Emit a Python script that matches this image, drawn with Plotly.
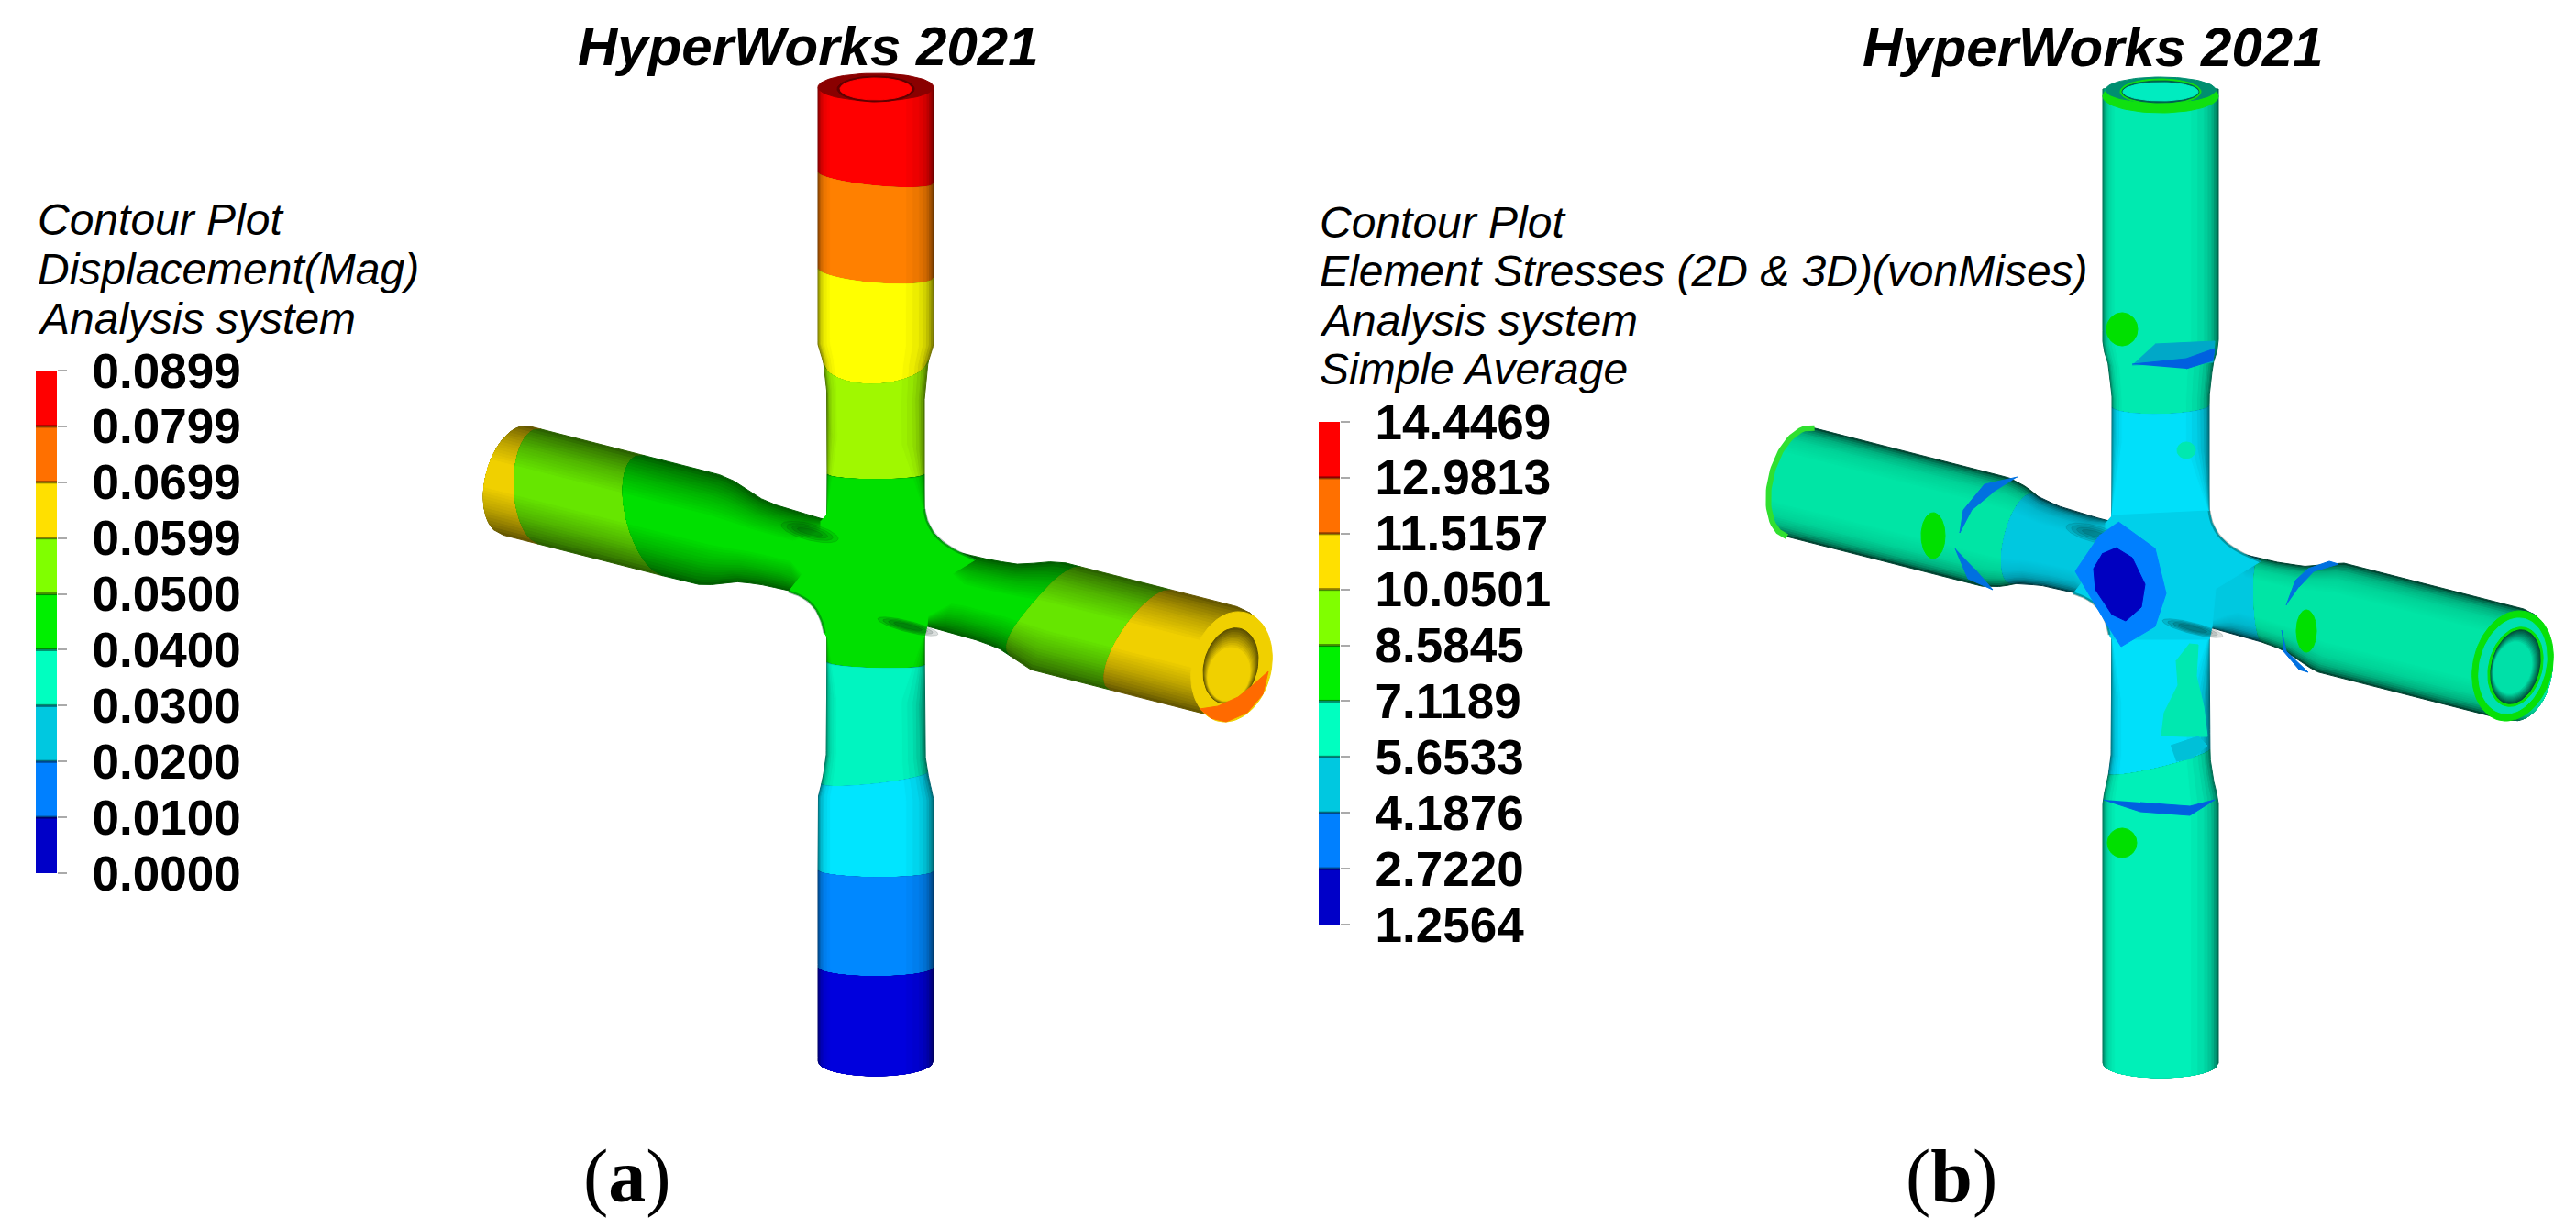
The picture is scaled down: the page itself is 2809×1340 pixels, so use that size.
#!/usr/bin/env python3
"""Contour plots of a cross joint: displacement (a) and von Mises stress (b)"""

import numpy as np
import plotly.graph_objects as go

W, H = 2809, 1340

# Legend scales
disp_labels = ['0.0000', '0.0100', '0.0200', '0.0300', '0.0400', '0.0500', '0.0599', '0.0699', '0.0799', '0.0899']
stress_labels = ['1.2564', '2.7220', '4.1876', '5.6533', '7.1189', '8.5845', '10.0501', '11.5157', '12.9813', '14.4469']
scale_colors = ['#0000c8', '#0080ff', '#00c8e0', '#00ffc0', '#00f000', '#80ff00', '#ffe000', '#ff7000', '#ff0000']

disp_text = ['Contour Plot', 'Displacement(Mag)', 'Analysis system']
stress_text = ['Contour Plot', 'Element Stresses (2D & 3D)(vonMises)', 'Analysis system', 'Simple Average']

# Pipe outline: half width along each axis
arm_s = [-450, -186, -165, -148, -122, -70, 0, 70, 120, 150, 170, 190, 450]
arm_h = [61, 61, 56, 48, 44, 42, 42, 43, 44, 47, 54, 61, 61]
pipe_y = [70, 376, 395, 430, 540, 700, 825, 850, 870, 1180]
pipe_h = [63, 63, 57, 53, 53, 53, 54, 58, 63, 63]

# Colour band edges, (edge, middle, other edge)
arm_cuts_a = [(-405, -438, -405), (-392, -407, -364), (-276, -283, -224), (215, 170, 165), (318, 275, 280), (393, 440, 406)]
arm_colors_a = ['#f0d000', '#66e600', '#00e000', '#66e600', '#f0d000']
up_cuts_a = [(95, 95, 95), (188, 203, 200), (293, 309, 303), (397, 419, 393), (517, 523, 517), (566, 566, 566)]
up_colors_a = ['#ff0000', '#ff8000', '#ffff00', '#a0f800', '#00e000']
low_cuts_a = [(690, 690, 690), (722, 729, 725), (855, 855, 842), (949, 957, 950), (1055, 1065, 1055), (1157, 1173, 1157)]
low_colors_a = ['#00e000', '#00f5c0', '#00e5ff', '#0088ff', '#0000dd']

arm_cuts_b = [(-405, -438, -405), (-150, -175, -150), (100, 105, 125), (393, 440, 406)]
arm_colors_b = ['#00e5a5', '#00c8e0', '#00e5a5']
up_cuts_b = [(95, 95, 95), (442, 450, 440), (566, 566, 566)]
up_colors_b = ['#00eab0', '#00e0fa']
low_cuts_b = [(690, 690, 690), (842, 835, 815), (1157, 1173, 1157)]
low_colors_b = ['#00e0fa', '#00f0b8']

# Shading strips: lateral extent, brightness
shade_t_a = [1.0, 0.9, 0.75, 0.6, 0.42, 0.25]
shade_f_a = [0.42, 0.55, 0.68, 0.8, 0.9, 1.0]
shade_t_b = [1.0, 0.95, 0.85, 0.7, 0.45]
shade_f_b = [0.3, 0.55, 0.78, 0.92, 1.0]
pipe_shade = [(1.0, 0.45), (0.985, 0.55), (0.97, 0.65), (0.945, 0.74), (0.92, 0.82), (0.88, 0.88), (0.84, 0.93), (0.77, 0.97), (0.7, 1.0)]


def strips(ts, fs):
    t = np.linspace(ts[0], ts[-1], 16)
    return list(zip(t, np.interp(t, ts[::-1], fs[::-1])))


# Hub patch with the fillets, panel (a) pixels
hub_x = [902, 1008, 1011, 1018, 1028, 1040, 1052, 1064, 1015, 1011, 1008, 902, 899, 896, 890, 881, 871, 860, 895, 895]
hub_y = [560, 555, 568, 581, 591, 599, 605, 610, 640, 682, 695, 695, 690, 678, 665, 655, 649, 645, 600, 568]

# Stress detail shapes, panel (b) pixels
blue_outer_x = [2310, 2350, 2362, 2350, 2313, 2297, 2263, 2290]
blue_outer_y = [569, 598, 647, 683, 705, 680, 623, 583]
blue_inner_x = [2307, 2325, 2339, 2335, 2318, 2303, 2285, 2283, 2293]
blue_inner_y = [597, 608, 637, 662, 677, 670, 643, 620, 603]
mint_patch_x = [2387, 2397, 2395, 2403, 2407, 2383, 2357, 2360, 2375, 2373]
mint_patch_y = [702, 703, 737, 770, 803, 803, 802, 777, 747, 720]
teal_patch_x = [2367, 2397, 2407, 2390, 2373]
teal_patch_y = [813, 803, 813, 827, 830]
slivers = [
    ([2350, 2415, 2413, 2325], [375, 372, 395, 398], '#00a8c8'),
    ([2325, 2384, 2415, 2413, 2384], [397, 391, 380, 393, 402], '#0060e0'),
    ([2294, 2334, 2388, 2415, 2388, 2334], [872, 885, 889, 872, 879, 875], '#0060e0'),
    ([2493, 2503, 2517, 2540, 2550, 2523, 2507], [660, 633, 620, 612, 615, 623, 640], '#0070e0'),
    ([2488, 2493, 2517, 2507, 2490], [687, 710, 733, 730, 710], '#0070e0'),
    ([2200, 2164, 2141, 2137, 2150, 2173], [520, 528, 556, 581, 556, 537], '#0070e0'),
    ([2132, 2146, 2173, 2153], [598, 631, 643, 620], '#0070e0'),
]
green_spots_x = [2314, 2314, 2515, 2108]
green_spots_y = [359, 919, 688, 584]
green_spots_rx = [17, 16, 11, 13]
green_spots_ry = [18, 16, 23, 25]

crescent_x = [1308, 1328, 1350, 1365, 1383, 1377, 1360, 1337, 1320]
crescent_y = [773, 770, 760, 748, 732, 757, 777, 787, 783]

fig = go.Figure()


def fill(x, y, color, width=1):
    fig.add_trace(go.Scatter(x=list(x), y=list(y), mode='lines', fill='toself', fillcolor=color,
                             line=dict(color=color, width=width), hoverinfo='skip', showlegend=False))


def shade(color, f):
    c = color.lstrip('#')
    r, g, b = [int(c[i:i + 2], 16) * f for i in (0, 2, 4)]
    return f'rgb({r:.0f},{g:.0f},{b:.0f})'


def cut_at(cut, t):
    l, m, r = cut
    return l + (r - l) * (t + 1) / 2 + (m - (l + r) / 2) * np.sqrt(np.clip(1 - t * t, 0, 1))


def ribbon(cx, cy, u, n, prof_s, prof_h, cut0, cut1, color, levels, skew, hub, fade_rng):
    tau = np.linspace(-1, 1, 41)
    for a, f in levels:
        def side(t):
            return 1 - (1 - a) * (skew[0] if t < 0 else skew[1])

        def point(s, t):
            s = np.asarray(s, dtype=float)
            fd = np.clip((np.abs(s - hub) - fade_rng[0]) / (fade_rng[1] - fade_rng[0]), 0, 1)
            w = 1 - (1 - side(t)) * fd
            lat = t * w * np.interp(s, prof_s, prof_h)
            return cx + u[0] * s + n[0] * lat, cy + u[1] * s + n[1] * lat

        scale = np.where(tau < 0, side(-1), side(1))
        xs, ys = [], []
        for s, t in zip(cut_at(cut0, tau * scale), tau):
            x, y = point(s, t)
            xs.append(x); ys.append(y)
        for s in np.linspace(cut_at(cut0, side(1)), cut_at(cut1, side(1)), 30):
            x, y = point(s, 1)
            xs.append(x); ys.append(y)
        for s, t in zip(cut_at(cut1, (tau * scale)[::-1]), tau[::-1]):
            x, y = point(s, t)
            xs.append(x); ys.append(y)
        for s in np.linspace(cut_at(cut1, -side(-1)), cut_at(cut0, -side(-1)), 30):
            x, y = point(s, -1)
            xs.append(x); ys.append(y)
        fill(xs, ys, shade(color, f))


def ellipse(cx, cy, ax, ay, color, u=(1, 0), n=(0, 1)):
    th = np.linspace(0, 2 * np.pi, 80)
    x = cx + ax * np.cos(th) * u[0] + ay * np.sin(th) * n[0]
    y = cy + ax * np.cos(th) * u[1] + ay * np.sin(th) * n[1]
    fill(x, y, color)


def hole(cx, cy, ax, ay, color, u, n, f0, shift):
    # bore of the pipe end, dark rim fading to the plain colour
    for k in range(10):
        p = k / 9
        ellipse(cx + shift[0] * p, cy + shift[1] * p, ax * (1 - 0.22 * p), ay * (1 - 0.3 * p), shade(color, f0 + (1 - f0) * p), u, n)


def draw_cross(dx, dy, arm_cuts, arm_colors, arm_levels, up_cuts, up_colors, low_cuts, low_colors, hub_color):
    u = (0.969, 0.247)
    n = (-0.247, 0.969)
    hx, hy = 955 + dx, 624 + dy
    for i, color in enumerate(arm_colors):
        ribbon(hx, hy, u, n, arm_s, arm_h, arm_cuts[i], arm_cuts[i + 1], color, arm_levels, (1, 1), 0, (55, 90))
    for cuts, colors in ((up_cuts, up_colors), (low_cuts, low_colors)):
        for i, color in enumerate(colors):
            ribbon(hx, dy, (0, 1), (1, 0), pipe_y, pipe_h, cuts[i], cuts[i + 1], color, pipe_shade, (0.7, 1.6), 624, (65, 140))
    fill([v + dx for v in hub_x], [v + dy for v in hub_y], hub_color)
    # fillet edges
    edge = 'rgba(0,40,30,0.35)'
    for idx in (range(1, 8), range(12, 18)):
        idx = list(idx)
        fig.add_trace(go.Scatter(x=[hub_x[i] + dx for i in idx], y=[hub_y[i] + dy for i in idx], mode='lines',
                                 line=dict(color=edge, width=3, shape='spline'), hoverinfo='skip', showlegend=False))
    # creases beside the hub
    for k in range(4):
        ellipse(883 + dx, 580 + dy, 32 - 6 * k, 9 - 2 * k, 'rgba(0,30,20,0.11)', u, n)
        ellipse(990 + dx, 683 + dy, 34 - 6 * k, 6 - 1.2 * k, 'rgba(0,30,20,0.14)', u, n)


def add_scale(ax_id, x0, x1, y0, y1, labels):
    rows = [[i] for i in range(len(scale_colors))]
    steps = []
    m = len(scale_colors)
    for i, c in enumerate(scale_colors):
        steps += [[i / m, c], [(i + 1) / m, c]]
    fig.add_trace(go.Heatmap(z=rows, x=[0, 1], y=list(range(len(labels))), zmin=-0.5, zmax=m - 0.5,
                             colorscale=steps, showscale=False, hoverinfo='skip',
                             xaxis=f'x{ax_id}', yaxis=f'y{ax_id}'))
    # dark seam between the colour steps
    for i in range(1, len(labels) - 1):
        fig.add_trace(go.Scatter(x=[0, 1], y=[i, i], mode='lines', line=dict(color='rgba(0,0,0,0.45)', width=3),
                                 hoverinfo='skip', showlegend=False, xaxis=f'x{ax_id}', yaxis=f'y{ax_id}'))
    fig.update_layout({
        f'xaxis{ax_id}': dict(domain=[x0 / W, x1 / W], range=[0, 1], visible=False, anchor=f'y{ax_id}', automargin=False),
        f'yaxis{ax_id}': dict(domain=[1 - y1 / H, 1 - y0 / H], range=[0, len(labels) - 1], anchor=f'x{ax_id}', side='right',
                              automargin=False, showgrid=False, zeroline=False, showline=False, ticks='outside', ticklen=10,
                              tickwidth=2, tickcolor='#aaaaaa', tickvals=list(range(len(labels))), ticktext=labels,
                              ticklabelstandoff=17,
                              tickfont=dict(family='Liberation Sans', size=53, color='#000000', weight='bold')),
    })


def note(x, y, text, size, anchor='left', family='Liberation Sans', **font):
    fig.add_annotation(x=x, y=y, xref='x', yref='y', text=text, showarrow=False, xanchor=anchor, yanchor='middle',
                       font=dict(family=family, size=size, color='#000000', **font))


# Panel (a)
draw_cross(0, 0, arm_cuts_a, arm_colors_a, strips(shade_t_a, shade_f_a), up_cuts_a, up_colors_a, low_cuts_a, low_colors_a, '#00e000')
ellipse(955, 95, 63, 15, '#8a0000')
ellipse(955, 97, 42, 14, '#600000')
ellipse(955, 97, 39, 12, '#ff0000')
u_a, n_a = (0.969, 0.247), (-0.247, 0.969)
ellipse(1343, 727, 43, 61, '#f0d000', u_a, n_a)
hole(1342, 726, 29, 42, '#f0d000', u_a, n_a, 0.4, (-2, 9))
fill(crescent_x, crescent_y, '#ff6a00')

# Panel (b)
draw_cross(1401, 2, arm_cuts_b, arm_colors_b, strips(shade_t_b, shade_f_b), up_cuts_b, up_colors_b, low_cuts_b, low_colors_b, '#00d0ea')
fill(mint_patch_x, mint_patch_y, '#00e8b0')
fill(teal_patch_x, teal_patch_y, '#00c0d8')
fill(blue_outer_x, blue_outer_y, '#0080ff')
fill(blue_inner_x, blue_inner_y, '#0000c0')
ellipse(2384, 491, 10, 9, '#00e8b0')
for sx, sy, col in slivers:
    fill(sx, sy, col)
for i in range(len(green_spots_x)):
    ellipse(green_spots_x[i], green_spots_y[i], green_spots_rx[i], green_spots_ry[i], '#00e000')
# top pipe end
ellipse(2356, 105, 63, 18, '#10e010')
ellipse(2356, 98, 60, 14, '#008f70')
ellipse(2356, 100, 44, 14, '#10e010')
ellipse(2356, 100, 42, 12, '#006050')
ellipse(2356, 100, 41, 10, '#00ecc0')
# right pipe end
ellipse(2740, 726, 43, 61, '#08e008', u_a, n_a)
ellipse(2740, 726, 36, 53, '#00e0b0', u_a, n_a)
ellipse(2743, 727, 29, 44, '#08e008', u_a, n_a)
hole(2743, 727, 26, 41, '#00e0a8', u_a, n_a, 0.35, (-3, 1))
th_cap = np.linspace(-1, 1, 40)
cap_s = cut_at(arm_cuts_b[0], th_cap)
cap_h = np.interp(cap_s, arm_s, arm_h)
fig.add_trace(go.Scatter(x=1401 + 955 + u_a[0] * cap_s + n_a[0] * th_cap * cap_h,
                         y=626 + u_a[1] * cap_s + n_a[1] * th_cap * cap_h,
                         mode='lines', line=dict(color='#30e030', width=6), hoverinfo='skip', showlegend=False))

# Scales
add_scale(2, 39, 62, 404, 952, disp_labels)
add_scale(3, 1438, 1461, 460, 1008, stress_labels)

# Text
note(881, 50, 'HyperWorks 2021', 60, 'center', weight='bold', style='italic')
note(2282, 51, 'HyperWorks 2021', 60, 'center', weight='bold', style='italic')
for i, line in enumerate(disp_text):
    note(39, 239 + 54 * i, line, 48, style='italic')
for i, line in enumerate(stress_text):
    note(1437, 242 + 53.5 * i, line, 48, style='italic')
note(684, 1282, '(<b>a</b>)', 82, 'center', family='Liberation Serif')
note(2128, 1282, '(<b>b</b>)', 82, 'center', family='Liberation Serif')

fig.update_layout(
    template='none',
    width=W,
    height=H,
    margin=dict(l=0, r=0, t=0, b=0, pad=0),
    paper_bgcolor='white',
    plot_bgcolor='white',
    showlegend=False,
    xaxis=dict(range=[0, W], domain=[0, 1], visible=False, automargin=False),
    yaxis=dict(range=[H, 0], domain=[0, 1], visible=False, automargin=False),
)

fig.write_html("out.html", config={'displayModeBar': False}, post_script="document.body.style.margin='0';")
